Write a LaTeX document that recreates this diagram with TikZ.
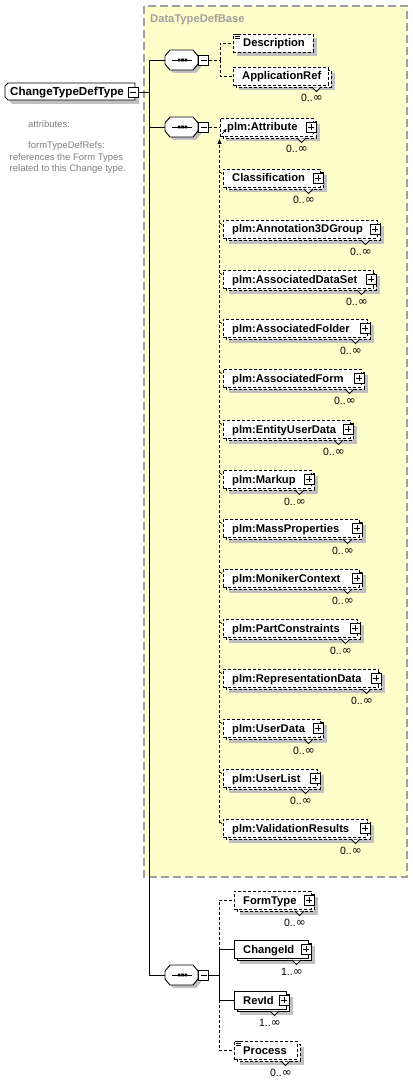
\documentclass[tikz,border=0pt]{standalone}
\usepackage{fontspec}
\setmainfont{Liberation Sans}
\newfontfamily\symfont{DejaVu Sans}
\usetikzlibrary{arrows.meta}
\definecolor{bgyellow}{HTML}{FFFFCC}
\definecolor{boxgray}{HTML}{A0A0A0}
\definecolor{shadowc}{HTML}{C0C0C0}
\definecolor{notegray}{HTML}{808080}
\newcommand\infy{{\symfont\fontsize{12}{12}\selectfont ∞}}
\tikzset{
  elline/.style={line width=0.9pt, draw=black},
  dashline/.style={elline, dash pattern=on 3pt off 2pt},
  solidline/.style={elline, solid},
  eltext/.style={font=\fontsize{11.2}{13}\selectfont\bfseries, inner sep=0pt},
  multtext/.style={font=\fontsize{10.5}{12}\selectfont, inner sep=0pt},
  notetext/.style={font=\fontsize{9.5}{11}\selectfont, text=notegray, inner sep=0pt, anchor=base west},
  minusbox/.style={solidline, fill=white, minimum size=10pt, inner sep=0pt},
}
% #1 name, #2 left x, #3 centre y, #4 right x of back box, #5 text,
% #6 line style, #7 multiplicity, #8 plus (1/0), #9 text icon (1/0)
\newcommand\xelem[9]{%
  \fill[shadowc] ({#2+6},{#3-3}) rectangle ({#4+3.5},{#3+14.5});
  \draw[#6,fill=white] ({#2+3},{#3-6}) rectangle (#4,{#3+11});
  \node[#6,draw,fill=white,anchor=west,minimum width={#4-3-#2},minimum height=18pt,inner sep=0pt] (#1) at (#2,#3) {};
  \node[eltext,anchor=base west] (#1-t) at ({#2+9},{#3+4}) {#5};
  \ifnum#8=1\relax
    \draw[solidline,fill=white] ({#4-10},{#3-5}) rectangle (#4,{#3+5});
    \draw[solidline,line width=0.8pt] ({#4-8},#3) -- ({#4-2},#3) ({#4-5},{#3-3}) -- ({#4-5},{#3+3});
  \fi
  \ifnum#9=1\relax
    \draw[solidline,line width=0.7pt] ({#2+2},{#3-8.5}) -- ++(5,0) ({#2+2},{#3-6.5}) -- ++(5,0) ({#2+2},{#3-4.5}) -- ++(5,0);
  \fi
  \fill[white] ({#4-19},{#3+11.5}) -- ({#4-14.5},{#3+15.5}) -- ({#4-10},{#3+11.5}) -- cycle;
  \draw[solidline,line width=0.8pt] ({#4-19},{#3+11}) -- ({#4-14.5},{#3+15.5}) -- ({#4-10},{#3+11});
  \node[multtext,anchor=base east] (#1-m) at ({#4-8},{#3+26}) {#7};
}
% sequence compositor: #1 name, #2 centre y
\newcommand\xseq[2]{%
  \fill[shadowc] (168,{#2-1}) -- (173,{#2-7}) -- (196,{#2-7}) -- (201,{#2-1}) -- (201,{#2+7}) -- (196,{#2+13}) -- (173,{#2+13}) -- (168,{#2+7}) -- cycle;
  \draw[solidline,fill=white] (165,{#2-4}) -- (170,{#2-10}) -- (193,{#2-10}) -- (198,{#2-4}) -- (198,{#2+4}) -- (193,{#2+10}) -- (170,{#2+10}) -- (165,{#2+4}) -- cycle;
  \draw[solidline,line width=0.8pt] (172,#2) -- (192,#2);
  \fill (177.8,{#2-1.3}) rectangle ++(2.6,2.6) (181.2,{#2-1.3}) rectangle ++(2.6,2.6) (184.6,{#2-1.3}) rectangle ++(2.6,2.6);
  \coordinate (#1) at (165,#2);
  \node[minusbox] (#1-m) at (203.5,#2) {};
  \draw[solidline,line width=0.8pt] (200.5,#2) -- (206.5,#2);
}
\begin{document}
\begin{tikzpicture}[x=1pt,y=-1pt]
\useasboundingbox (0,0) rectangle (412,1083);
% base type area
\draw[fill=bgyellow, draw=boxgray, line width=1.2pt, dash pattern=on 8pt off 4pt] (144,6) rectangle (407,877);
\node[eltext, text=boxgray, anchor=base west] (basetitle) at (150,23) {DataTypeDefBase};

% root element
\fill[shadowc] (12,87) -- (139,87) -- (139,104) -- (12,104) -- (9,101) -- (9,90) -- cycle;
\draw[solidline,fill=white] (8,83) -- (135,83) -- (135,100) -- (8,100) -- (5,97) -- (5,86) -- cycle;
\node[eltext,anchor=base west,font=\fontsize{11.6}{13}\selectfont\bfseries] (root) at (10,96) {ChangeTypeDefType};
\node[minusbox] (root-m) at (133,92) {};
\draw[solidline,line width=0.8pt] (130,92) -- (136,92);

% notes
\node[notetext] (note1) at (28,127.5) {attributes:};
\node[notetext] (note2) at (28,148.5) {formTypeDefRefs:};
\node[notetext] (note3) at (9.5,160.5) {references the Form Types};
\node[notetext] (note4) at (9.5,171.5) {related to this Change type.};

% compositors
\xseq{s1}{60}
\xseq{s2}{127}
\xseq{s3}{975}

% trunk connectors
\draw[solidline] (root-m.east) -- (149,92) coordinate (trunk);
\draw[solidline] (trunk) |- (s1);
\draw[solidline] (trunk) |- (s2);
\draw[solidline] (trunk) |- (s3);

% ---- sequence 1 ----
\fill[shadowc] (237,38) rectangle (317,56);
\node[dashline,draw,fill=white,anchor=west,minimum width=80pt,minimum height=18pt,inner sep=0pt] (desc) at (233,43) {};
\draw[solidline,line width=0.7pt] (235,34.5) -- ++(5,0) (235,36.5) -- ++(5,0) (235,38.5) -- ++(5,0);
\node[eltext,anchor=base west] (desc-t) at (243,47) {Description};
\xelem{appref}{233}{76}{331}{ApplicationRef}{dashline}{0..\infy}{0}{0}
\draw[dashline] (s1-m.east) -- (220,60) coordinate (s1bus);
\draw[dashline] (s1bus) |- (desc.west);
\draw[dashline] (s1bus) |- (appref.west);

% ---- sequence 2 ----
\xelem{attr}{220}{127}{316}{\hspace{-2pt}plm:Attribute}{dashline}{0..\infy}{1}{0}
\xelem{classif}{223}{178}{323}{Classification}{dashline}{0..\infy}{1}{0}
\xelem{annot}{223}{229}{380}{plm:Annotation3DGroup}{dashline}{0..\infy}{1}{0}
\xelem{assds}{223}{279}{376}{plm:AssociatedDataSet}{dashline}{0..\infy}{1}{0}
\xelem{assfolder}{223}{328}{370}{plm:AssociatedFolder}{dashline}{0..\infy}{1}{0}
\xelem{assform}{223}{378}{364}{plm:AssociatedForm}{dashline}{0..\infy}{1}{0}
\xelem{entity}{223}{429}{353}{plm:EntityUserData}{dashline}{0..\infy}{1}{0}
\xelem{markup}{223}{479}{314}{plm:Markup}{dashline}{0..\infy}{1}{0}
\xelem{massprop}{223}{528}{362}{plm:MassProperties}{dashline}{0..\infy}{1}{0}
\xelem{moniker}{223}{578}{362}{plm:MonikerContext}{dashline}{0..\infy}{1}{0}
\xelem{partc}{223}{628}{360}{plm:PartConstraints}{dashline}{0..\infy}{1}{0}
\xelem{repdata}{223}{678}{381}{plm:RepresentationData}{dashline}{0..\infy}{1}{0}
\xelem{userdata}{223}{728}{323}{plm:UserData}{dashline}{0..\infy}{1}{0}
\xelem{userlist}{223}{778}{320}{plm:UserList}{dashline}{0..\infy}{1}{0}
\xelem{valid}{223}{828}{370}{plm:ValidationResults}{dashline}{0..\infy}{1}{0}
\draw[dashline] (s2-m.east) -- (attr.west);
\draw[dashline,-{Triangle[length=5pt,width=4pt]}] (219.5,823) coordinate (s2bot) -- (219.5,139) coordinate (s2top);
\draw[solidline,line width=0.8pt,-{Triangle[length=3pt,width=3pt]}] (222,134) -- (226.5,129);
\foreach \cy in {178,229,279,328,378,429,479,528,578,628,678,728,778,828}
  \draw[solidline,line width=0.7pt] (219.5,\cy-6) -- ++(2.5,1.5);

% ---- sequence 3 ----
\xelem{formtype}{234}{900}{314}{FormType}{dashline}{0..\infy}{1}{0}
\xelem{changeid}{234}{949}{311}{ChangeId}{solidline}{1..\infy}{1}{0}
\xelem{revid}{234}{1000}{289}{RevId}{solidline}{1..\infy}{1}{0}
\xelem{process}{234}{1050}{300}{Process}{dashline}{0..\infy}{0}{1}
\draw[solidline] (s3-m.east) -- (219,975) coordinate (s3bus);
\draw[dashline] (s3bus) |- (formtype.west);
\draw[dashline] (s3bus) |- (process.west);
\draw[solidline] (s3bus) |- (changeid.west);
\draw[solidline] (s3bus) |- (revid.west);
\end{tikzpicture}
\end{document}
